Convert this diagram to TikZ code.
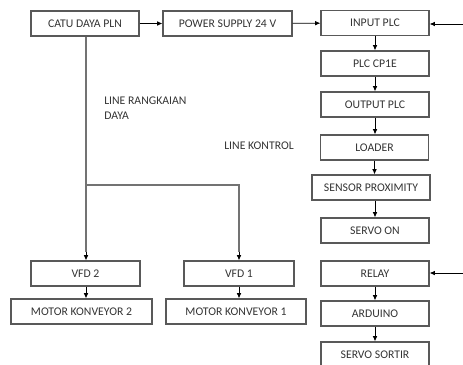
\documentclass[tikz,border=0pt]{standalone}
\usepackage{fontspec}
\setmainfont{Carlito}
\usetikzlibrary{arrows.meta}

\tikzset{
  blok/.style={draw=black!65,line width=0.9pt,minimum width=81pt,minimum height=18.75pt,
    inner sep=0pt,font=\fontsize{8.8}{10}\selectfont,text=black!80},
  panah/.style={-{Latex[length=4pt,width=3.5pt]},line width=0.6pt},
  daya/.style={draw=black!55,line width=1.2pt},
  teks/.style={font=\fontsize{8.8}{11.25}\selectfont,text=black!80,inner sep=0pt}
}

\begin{document}
\begin{tikzpicture}[x=0.75pt,y=-0.75pt]
\useasboundingbox (0,0) rectangle (463,364);
% baris atas
\node[blok] (pln) at (85,23.5) {CATU DAYA PLN};
\node[blok,minimum width=96.75pt] (psu) at (227.5,23.5) {POWER SUPPLY 24 V};
\node[blok] (inplc) at (375,23) {INPUT PLC};
% line kontrol
\node[blok] (cp1e) at (375,63.5) {PLC CP1E};
\node[blok] (outplc) at (375,104.5) {OUTPUT PLC};
\node[blok] (loader) at (374.5,147.5) {LOADER};
\node[blok,minimum width=88.5pt] (sensor) at (371,187.5) {SENSOR PROXIMITY};
\node[blok] (servoon) at (375,230.5) {SERVO ON};
\node[blok] (relay) at (375,273.5) {RELAY};
\node[blok] (arduino) at (375,313.5) {ARDUINO};
\node[blok] (sortir) at (375,354.5) {SERVO SORTIR};
% line daya
\node[blok,minimum width=81.75pt] (vfd2) at (85.5,273.5) {VFD 2};
\node[blok,minimum width=82.5pt] (vfd1) at (239,273.5) {VFD 1};
\node[blok,minimum width=105.75pt] (motor2) at (81.5,311.5) {MOTOR KONVEYOR 2};
\node[blok,minimum width=105pt] (motor1) at (236,311.5) {MOTOR KONVEYOR 1};
% keterangan
\node[teks,align=left,anchor=north west] (ketdaya) at (104,97) {LINE RANGKAIAN\\DAYA};
\node[teks] (ketkontrol) at (259,146) {LINE KONTROL};
\coordinate (masuk1) at (463,24);
\coordinate (masuk2) at (463,273);
\coordinate (cabang) at (86,185);
% panah
\draw[panah] (pln) -- (psu);
\draw[panah] (psu) -- (inplc);
\draw[panah] (masuk1) -- (inplc.east |- masuk1);
\draw[panah] (masuk2) -- (relay.east |- masuk2);
\draw[panah] (inplc) -- (cp1e);
\draw[panah] (cp1e) -- (outplc);
\draw[panah] (outplc) -- (outplc.south |- loader.north);
\draw[panah] (loader) -- (loader.south |- sensor.north);
\draw[panah] (servoon.north |- sensor.south) -- (servoon);
\draw[panah] (relay) -- (arduino);
\draw[panah] (arduino) -- (sortir);
\draw[daya] (pln.south -| cabang) -- (cabang) -- (cabang -| vfd1) -- ([yshift=6pt]vfd1.north);
\draw[daya] (cabang) -- ([yshift=6pt]vfd2.north -| cabang);
\draw[panah] ([yshift=6.5pt]vfd2.north -| cabang) -- (vfd2.north -| cabang);
\draw[panah] ([yshift=6.5pt]vfd1.north) -- (vfd1.north);
\draw[panah] (vfd2.south -| cabang) -- (motor2.north -| cabang);
\draw[panah] (vfd1) -- (vfd1.south |- motor1.north);
\end{tikzpicture}
\end{document}
